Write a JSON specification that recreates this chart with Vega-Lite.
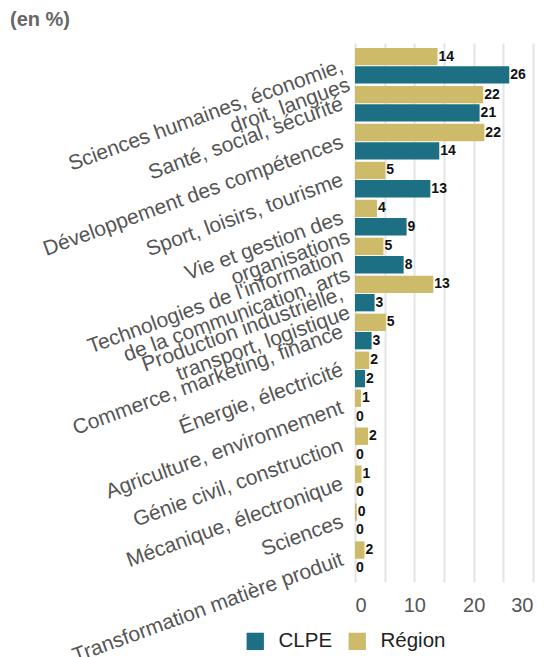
{
  "$schema": "https://vega.github.io/schema/vega-lite/v6.json",
  "width": 178,
  "height": 539,
  "autosize": {"type": "none"},
  "padding": {"left": 355, "top": 43, "right": 11, "bottom": 75},
  "title": {"text": "(en %)", "anchor": "start", "frame": "group", "dx": -345, "offset": 13, "fontSize": 20, "fontWeight": "bold", "color": "#666666", "font": "Liberation Sans"},
  "config": {"font": "Liberation Sans", "view": {"stroke": null}},
  "data": {"values": [
    {"cat": "Sciences humaines, économie,\ndroit, langues", "serie": "Région", "value": 13.9},
    {"cat": "Sciences humaines, économie,\ndroit, langues", "serie": "CLPE", "value": 26},
    {"cat": "Santé, social, sécurité", "serie": "Région", "value": 21.6},
    {"cat": "Santé, social, sécurité", "serie": "CLPE", "value": 21},
    {"cat": "Développement des compétences", "serie": "Région", "value": 21.8},
    {"cat": "Développement des compétences", "serie": "CLPE", "value": 14.2},
    {"cat": "Sport, loisirs, tourisme", "serie": "Région", "value": 5.1},
    {"cat": "Sport, loisirs, tourisme", "serie": "CLPE", "value": 12.7},
    {"cat": "Vie et gestion des\norganisations", "serie": "Région", "value": 3.7},
    {"cat": "Vie et gestion des\norganisations", "serie": "CLPE", "value": 8.7},
    {"cat": "Technologies de l'information\nde la communication, arts", "serie": "Région", "value": 4.8},
    {"cat": "Technologies de l'information\nde la communication, arts", "serie": "CLPE", "value": 8.2},
    {"cat": "Production industrielle,\ntransport, logistique", "serie": "Région", "value": 13.2},
    {"cat": "Production industrielle,\ntransport, logistique", "serie": "CLPE", "value": 3.3},
    {"cat": "Commerce, marketing, finance", "serie": "Région", "value": 5.2},
    {"cat": "Commerce, marketing, finance", "serie": "CLPE", "value": 2.8},
    {"cat": "Énergie, électricité", "serie": "Région", "value": 2.4},
    {"cat": "Énergie, électricité", "serie": "CLPE", "value": 1.7},
    {"cat": "Agriculture, environnement", "serie": "Région", "value": 1.0},
    {"cat": "Agriculture, environnement", "serie": "CLPE", "value": 0},
    {"cat": "Génie civil, construction", "serie": "Région", "value": 2.2},
    {"cat": "Génie civil, construction", "serie": "CLPE", "value": 0},
    {"cat": "Mécanique, électronique", "serie": "Région", "value": 1.1},
    {"cat": "Mécanique, électronique", "serie": "CLPE", "value": 0},
    {"cat": "Sciences", "serie": "Région", "value": 0.3},
    {"cat": "Sciences", "serie": "CLPE", "value": 0},
    {"cat": "Transformation matière produit", "serie": "Région", "value": 1.6},
    {"cat": "Transformation matière produit", "serie": "CLPE", "value": 0}
  ]},
  "encoding": {
    "y": {
      "field": "cat", "type": "nominal", "sort": null,
      "scale": {"paddingInner": 0.06, "paddingOuter": 0.13},
      "axis": {
        "title": null, "domain": false, "ticks": false, "labelAngle": -20,
        "labelAlign": "right", "labelBaseline": "middle", "labelPadding": 13,
        "labelFontSize": 21, "labelColor": "#555555", "labelLimit": 400,
        "labelLineHeight": 20,
        "labelExpr": "split(datum.label, '\\n')"
      }
    },
    "yOffset": {"field": "serie", "type": "nominal", "sort": ["Région", "CLPE"], "scale": {"paddingInner": 0.05}},
    "x": {
      "field": "value", "type": "quantitative",
      "scale": {"domain": [0, 30], "nice": false},
      "axis": {
        "title": null, "values": [0, 5, 10, 15, 20, 25, 30],
        "labelExpr": "datum.value % 10 == 0 ? datum.label : ''",
        "domain": false, "ticks": false, "gridColor": "#e4e4e4", "gridWidth": 2,
        "labelFontSize": 20, "labelColor": "#555555", "labelPadding": 13
      }
    }
  },
  "layer": [
    {
      "mark": {"type": "bar"},
      "encoding": {
        "color": {
          "field": "serie", "type": "nominal",
          "scale": {"domain": ["CLPE", "Région"], "range": ["#1d6f83", "#cdbb6a"]},
          "legend": {
            "title": null, "orient": "none", "direction": "horizontal",
            "legendX": -110, "legendY": 588, "symbolType": "square", "symbolSize": 300,
            "symbolStrokeWidth": 0, "labelFontSize": 20.5, "labelColor": "#222222",
            "labelOffset": 13, "columnPadding": 14
          }
        }
      }
    },
    {
      "mark": {"type": "text", "align": "left", "baseline": "middle", "dx": 1, "fontSize": 14, "fontWeight": "bold", "color": "#111111"},
      "encoding": {
        "text": {"field": "value", "type": "quantitative", "format": ".0f"}
      }
    }
  ]
}
